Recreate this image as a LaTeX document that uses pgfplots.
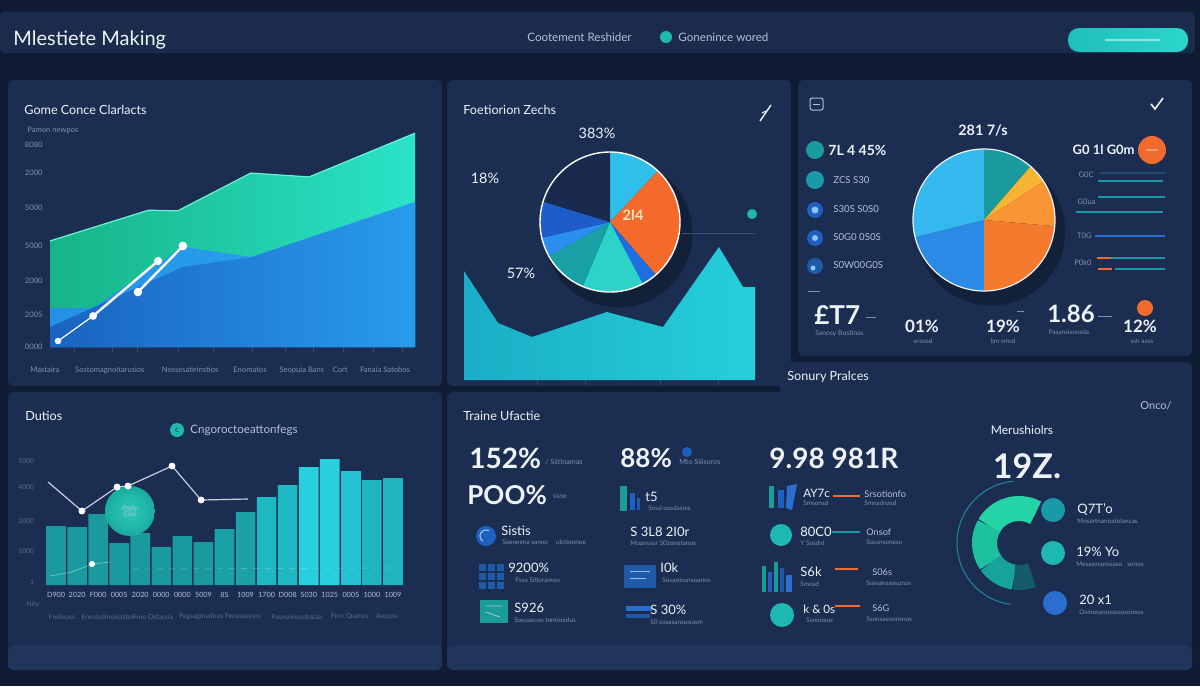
\documentclass[border=0pt]{standalone}
\usepackage{pgfplots}
\pgfplotsset{compat=1.18}
\usepackage{fontspec}
\setmainfont{Lato}
\newcommand\fs[1]{\fontsize{#1}{#1}\selectfont}
\definecolor{bgdark}{HTML}{101B34}
\definecolor{topbar}{HTML}{1A2B4C}
\definecolor{panel}{HTML}{1B2D50}
\definecolor{band}{HTML}{203559}
\definecolor{wtxt}{HTML}{EEF3FA}
\definecolor{ltxt}{HTML}{B4C0D6}
\definecolor{gtxt}{HTML}{8090B0}
\definecolor{dtxt}{HTML}{5A6A8C}
\definecolor{tickc}{HTML}{3A4D72}
\definecolor{grnL}{HTML}{17B487}
\definecolor{grnR}{HTML}{2AE3C8}
\definecolor{grnLine}{HTML}{6AF2D8}
\definecolor{lbL}{HTML}{2591E6}
\definecolor{lbR}{HTML}{2AA6F2}
\definecolor{dbL}{HTML}{1A63C0}
\definecolor{dbR}{HTML}{289CEC}
\definecolor{tealL}{HTML}{1AAEC6}
\definecolor{tealR}{HTML}{26CFDA}
\definecolor{pCyan}{HTML}{2EC0EA}
\definecolor{pOrange}{HTML}{F36A2B}
\definecolor{pBlue}{HTML}{1F6FE0}
\definecolor{pTurq}{HTML}{2CD3C8}
\definecolor{pTeal}{HTML}{18A0A6}
\definecolor{pBlue2}{HTML}{2A8FF0}
\definecolor{pDBlue}{HTML}{1E5CC8}
\definecolor{pNavy}{HTML}{1A2A4E}
\definecolor{qTeal}{HTML}{1A9A9C}
\definecolor{qYel}{HTML}{F8B534}
\definecolor{qOrL}{HTML}{F99535}
\definecolor{qOr}{HTML}{F47A2D}
\definecolor{qBlue}{HTML}{2B8AE6}
\definecolor{qSky}{HTML}{35B8EE}
\definecolor{b1}{HTML}{1A9A9E}
\definecolor{b2}{HTML}{1BA2A8}
\definecolor{b3}{HTML}{1EB8C2}
\definecolor{b4}{HTML}{28CFDF}
\definecolor{b5}{HTML}{23C3D3}
\definecolor{b6}{HTML}{1FB4C0}
\definecolor{lineg}{HTML}{C5CEDC}
\definecolor{bubI}{HTML}{2FCABB}
\definecolor{bubO}{HTML}{19AC9F}
\definecolor{d1}{HTML}{25D4A6}
\definecolor{d2}{HTML}{1DC09F}
\definecolor{d3}{HTML}{17A29C}
\definecolor{d4}{HTML}{155B69}
\definecolor{thinring}{HTML}{1B8C96}
\definecolor{orng}{HTML}{F26A2E}
\definecolor{orngL}{HTML}{F9A070}
\definecolor{tealc}{HTML}{1FB8B0}
\definecolor{icoblue}{HTML}{1E5FC0}
\definecolor{icoblue2}{HTML}{1E5AA8}
\definecolor{icoteal}{HTML}{1A9C9A}
\definecolor{lineteal}{HTML}{1A9AA8}
\definecolor{lineblue}{HTML}{2A6FD0}
\definecolor{linedim}{HTML}{244A6E}
\definecolor{btnL}{HTML}{1EBFBA}
\definecolor{btnR}{HTML}{2CD6CB}
\definecolor{btnLine}{HTML}{8DE6DE}
\definecolor{cream}{HTML}{FBE1BE}
\definecolor{ltblue}{HTML}{8CC4F2}
\begin{document}
\begin{tikzpicture}
%================ background & panels (pixel units) =================
\begin{scope}[x=0.5pt,y=-0.5pt]
\fill[bgdark] (0,0) rectangle (1200,686);
\fill[topbar,rounded corners=2pt] (0,12) rectangle (1195,53);
\fill[panel,rounded corners=3pt] (8,80) rectangle (442,386);
\fill[panel,rounded corners=3pt] (447,80) rectangle (791,386);
\fill[panel,rounded corners=3pt] (798,80) rectangle (1192,356);
\fill[panel,rounded corners=3pt] (8,392) rectangle (442,670);
\fill[panel,rounded corners=3pt] (447,392) rectangle (1192,670);
\fill[panel,rounded corners=3pt] (780,362) rectangle (1192,410);
\fill[band,rounded corners=3pt] (8,645) rectangle (442,670);
\fill[band,rounded corners=3pt] (447,645) rectangle (1192,670);
% top bar content
\node[anchor=west,inner sep=0,text=wtxt,font=\fs{10}] at (13,40) {Mlestiete Making};
\node[anchor=west,inner sep=0,text=ltxt,font=\fs{5.8}] at (527,37) {Cootement Reshider};
\fill[tealc] (666,37) circle[radius=6];
\node[anchor=west,inner sep=0,text=ltxt,font=\fs{5.8}] at (678,37) {Gonenince wored};
\shade[left color=btnL,right color=btnR,rounded corners=5.5pt] (1068,28) rectangle (1188,52);
\draw[btnLine,line width=1pt] (1105,40) -- (1160,40);
\end{scope}

%================ Panel 1: area chart =================
\begin{axis}[at={(25pt,-173.5pt)},anchor=south west,scale only axis,
  width=182.5pt,height=108.5pt,xmin=0,xmax=10,ymin=0,ymax=6200,
  axis lines=left,axis line style={draw=none},clip=false,
  xtick={0.68,1.70,2.41,3.51,4.47,5.56,6.44,7.21,8.03,8.85,9.67},xticklabels={},
  x tick style={draw=tickc,line width=0.5pt},tick align=outside,major tick length=2.5pt,
  ytick={0,914,1886,2886,3971,4971,5771},
  yticklabels={0000,2005,2000,5000,5000,2000,8080},
  y tick style={draw=none},
  yticklabel style={font=\fs{3.8},text=gtxt,inner sep=1pt}]
\addplot[draw=none,left color=grnL,right color=grnR] coordinates {(0,3030)(2.7,3910)(3.5,3890)(5.5,4970)(7.1,4860)(10,6110)} \closedcycle;
\addplot[grnLine,line width=0.6pt] coordinates {(0,3030)(2.7,3910)(3.5,3890)(5.5,4970)(7.1,4860)(10,6110)};
\addplot[draw=none,left color=lbL,right color=lbR] coordinates {(0,1114)(1.18,1114)(3.64,2857)(5.53,2571)(10,4143)} \closedcycle;
\addplot[draw=none,left color=dbL,right color=dbR] coordinates {(0,571)(3.64,2286)(5.53,2571)(10,4143)} \closedcycle;
\addplot[white,line width=0.6pt,mark=*,mark size=1.3pt] coordinates {(0.22,171)(1.18,886)};
\addplot[white,line width=1.2pt,mark=*,mark size=1.3pt] coordinates {(1.18,886)(2.96,2457)};
\addplot[white,line width=1.2pt,mark=*,mark size=1.5pt] coordinates {(2.41,1571)(3.64,2886)};
\addplot[only marks,white,mark=*,mark size=1.8pt] coordinates {(2.96,2457)(3.64,2886)};
\node[font=\fs{3.8},text=gtxt] at (axis cs:-0.14,-660) {Mastaira};
\node[font=\fs{3.8},text=gtxt] at (axis cs:1.64,-660) {Sostomagnoitarusios};
\node[font=\fs{3.8},text=gtxt] at (axis cs:3.84,-660) {Nossesatirinstios};
\node[font=\fs{3.8},text=gtxt] at (axis cs:5.48,-660) {Enomatos};
\node[font=\fs{3.8},text=gtxt] at (axis cs:6.9,-660) {Seopuia Bans};
\node[font=\fs{3.8},text=gtxt] at (axis cs:7.95,-660) {Cort};
\node[font=\fs{3.8},text=gtxt] at (axis cs:9.18,-660) {Fanaia Satobos};
\end{axis}

%================ Panel 2: teal area =================
\begin{axis}[at={(232pt,-190pt)},anchor=south west,scale only axis,
  width=145.5pt,height=90pt,xmin=0,xmax=10,ymin=0,ymax=180,
  axis lines=left,axis line style={draw=none},clip=false,
  xtick={2.51,4.16,6.74,8.76},xticklabels={},
  x tick style={draw=tickc,line width=0.5pt},tick align=outside,major tick length=2.5pt,
  ytick=\empty]
\addplot[draw=none,left color=tealL,right color=tealR] coordinates {(0,109)(1.17,57)(2.34,43)(4.91,68)(6.84,53)(8.76,133)(9.59,93)(10,93)} \closedcycle;
\end{axis}

%================ Panel 2: pie =================
\begin{axis}[at={(305pt,-111pt)},anchor=center,scale only axis,
  width=71pt,height=71pt,xmin=-1,xmax=1,ymin=-1,ymax=1,hide axis,clip=false]
\coordinate (pc) at (axis cs:0,0);
\fill[black,opacity=0.28] (axis cs:0.12,-0.16) circle[radius=37pt];
\fill[pCyan]   (pc) -- ++(90:35pt)   arc[start angle=90,end angle=47,radius=35pt] -- cycle;
\fill[pOrange] (pc) -- ++(47:35pt)   arc[start angle=47,end angle=-49,radius=35pt] -- cycle;
\fill[pBlue]   (pc) -- ++(-49:35pt)  arc[start angle=-49,end angle=-62,radius=35pt] -- cycle;
\fill[pTurq]   (pc) -- ++(-62:35pt)  arc[start angle=-62,end angle=-113,radius=35pt] -- cycle;
\fill[pTeal]   (pc) -- ++(-113:35pt) arc[start angle=-113,end angle=-151,radius=35pt] -- cycle;
\fill[pBlue2]  (pc) -- ++(-151:35pt) arc[start angle=-151,end angle=-167,radius=35pt] -- cycle;
\fill[pDBlue]  (pc) -- ++(-167:35pt) arc[start angle=-167,end angle=-197,radius=35pt] -- cycle;
\fill[pNavy]   (pc) -- ++(-197:35pt) arc[start angle=-197,end angle=-270,radius=35pt] -- cycle;
\draw[white,line width=0.7pt] (pc) circle[radius=35pt];
\end{axis}

%================ Panel 3: pie =================
\begin{axis}[at={(492pt,-110pt)},anchor=center,scale only axis,
  width=72pt,height=72pt,xmin=-1,xmax=1,ymin=-1,ymax=1,hide axis,clip=false]
\coordinate (qc) at (axis cs:0,0);
\fill[black,opacity=0.28] (axis cs:0.1,-0.16) circle[radius=37pt];
\fill[qTeal] (qc) -- ++(90:35.5pt)   arc[start angle=90,end angle=49,radius=35.5pt] -- cycle;
\fill[qYel]  (qc) -- ++(49:35.5pt)   arc[start angle=49,end angle=33,radius=35.5pt] -- cycle;
\fill[qOrL]  (qc) -- ++(33:35.5pt)   arc[start angle=33,end angle=-5,radius=35.5pt] -- cycle;
\fill[qOr]   (qc) -- ++(-5:35.5pt)   arc[start angle=-5,end angle=-90,radius=35.5pt] -- cycle;
\fill[qBlue] (qc) -- ++(-90:35.5pt)  arc[start angle=-90,end angle=-166,radius=35.5pt] -- cycle;
\fill[qSky]  (qc) -- ++(-166:35.5pt) arc[start angle=-166,end angle=-270,radius=35.5pt] -- cycle;
\draw[wtxt,line width=0.6pt] (qc) circle[radius=35.5pt];
\end{axis}

%================ Panel 4: bars =================
\begin{axis}[at={(22.75pt,-292.5pt)},anchor=south west,scale only axis,
  width=179pt,height=65pt,xmin=-0.5,xmax=16.5,ymin=0,ymax=130,
  axis lines=left,axis line style={draw=none},tick style={draw=none},clip=false,
  xtick={0,...,16},
  xticklabels={D900,2020,F000,0005,2020,0000,0000,5009,8S,1009,1700,D008,5030,1025,0005,1000,1009},
  xticklabel style={font=\fs{3.6},text=ltxt,inner sep=1.5pt},
  ytick={3,34,64,98,124},yticklabels={1,1000,2000,4000,5000},
  yticklabel style={font=\fs{3.4},text=dtxt}]
\addplot[ybar,bar width=9.8pt,bar shift=0pt,fill=b1,draw=none] coordinates {(0,59)(1,58)(2,71)(3,42)(4,52)(5,38)(6,49)(7,43)};
\addplot[ybar,bar width=9.8pt,bar shift=0pt,fill=b2,draw=none] coordinates {(8,56)(9,73)};
\addplot[ybar,bar width=9.8pt,bar shift=0pt,fill=b3,draw=none] coordinates {(10,88)(11,100)};
\addplot[ybar,bar width=9.8pt,bar shift=0pt,fill=b4,draw=none] coordinates {(12,118)(13,126)};
\addplot[ybar,bar width=9.8pt,bar shift=0pt,fill=b5,draw=none] coordinates {(14,114)};
\addplot[ybar,bar width=9.8pt,bar shift=0pt,fill=b6,draw=none] coordinates {(15,105)(16,107)};
\shade[inner color=bubI,outer color=bubO] (axis cs:3.51,74) circle[radius=12.5pt];
\node[font=\fs{3.2},text=ltxt,align=center] at (axis cs:3.51,74) {Prety\\Cust};
\addplot[white,opacity=0.35,line width=0.4pt] coordinates {(-0.28,9)(0.76,13)(1.71,21)(2.56,23)};
\addplot[white,opacity=0.2,line width=0.4pt,dash pattern=on 3pt off 3pt] coordinates {(3.66,16)(16.33,17)};
\addplot[only marks,white,mark=*,mark size=1.3pt] coordinates {(1.71,21)};
\addplot[lineg,line width=0.6pt] coordinates {(-0.38,103)(1.23,74)(2.9,98)(3.42,99)(5.51,119)(6.89,85)(9.12,86)};
\addplot[only marks,white,mark=*,mark size=1.5pt] coordinates {(1.23,74)(2.9,98)(3.42,99)(5.51,119)(6.89,85)};
\end{axis}

%================ Panel 5: donut =================
\begin{axis}[at={(509.5pt,-271.5pt)},anchor=center,scale only axis,
  width=80pt,height=80pt,xmin=-1,xmax=1,ymin=-1,ymax=1,hide axis,clip=false]
\coordinate (dc) at (axis cs:0,0);
\draw[thinring,line width=0.5pt] (dc) ++(95:31pt) arc[start angle=95,end angle=262,radius=31pt];
\draw[d1,line width=12.5pt] (dc) ++(61:17.25pt)  arc[start angle=61,end angle=150,radius=17.25pt];
\draw[d2,line width=12.5pt] (dc) ++(150:17.25pt) arc[start angle=150,end angle=215,radius=17.25pt];
\draw[d3,line width=12.5pt] (dc) ++(215:17.25pt) arc[start angle=215,end angle=262,radius=17.25pt];
\draw[d4,line width=12.5pt] (dc) ++(262:17.25pt) arc[start angle=262,end angle=292,radius=17.25pt];
\end{axis}

%================ overlays (pixel units) =================
\begin{scope}[x=0.5pt,y=-0.5pt]
% panel 1
\node[anchor=west,inner sep=0,text=wtxt,font=\fs{6.3}] at (24,110) {Gome Conce Clarlacts};
\node[anchor=west,inner sep=0,text=gtxt,font=\fs{3.8}] at (27,130) {Pamon newpos};
% panel 2
\node[anchor=west,inner sep=0,text=wtxt,font=\fs{6.3}] at (463,110) {Foetiorion Zechs};
\draw[wtxt,line width=0.7pt] (760,121) -- (771,105);
\draw[wtxt,line width=0.5pt] (762,113) -- (766,111);
\node[inner sep=0,text=wtxt,font=\fs{7.2}] at (597,133) {383\%};
\node[inner sep=0,text=wtxt,font=\fs{7.2}] at (485,178) {18\%};
\node[inner sep=0,text=wtxt,font=\fs{7.2}] at (521,273) {57\%};
\node[inner sep=0,text=cream,font=\bfseries\fs{7.2}] at (633,215) {2I4};
\draw[tickc,line width=0.4pt] (682,233) -- (755,233);
\fill[tealc] (752,214) circle[radius=5];
% panel 3
\draw[ltxt,line width=0.5pt,rounded corners=1pt] (810,98) rectangle (823,110);
\draw[ltxt,line width=0.4pt] (813,104) -- (820,104);
\draw[wtxt,line width=0.8pt] (1151,104) -- (1155,109) -- (1163,98);
\node[inner sep=0,text=wtxt,font=\bfseries\fs{7.2}] at (983,130) {281 7/s};
\fill[qTeal] (815,150) circle[radius=9];
\fill[lineteal] (815,180) circle[radius=9];
\fill[icoblue] (815,210) circle[radius=8]; \fill[ltblue] (815,210) circle[radius=3.5];
\fill[icoblue] (815,238) circle[radius=8]; \fill[ltblue] (815,238) circle[radius=3];
\fill[icoblue2] (815,266) circle[radius=8]; \fill[ltblue] (813,268) circle[radius=2.5];
\node[anchor=west,inner sep=0,text=wtxt,font=\bfseries\fs{7}] at (828,150) {7L 4 45\%};
\node[anchor=west,inner sep=0,text=ltxt,font=\fs{4.8}] at (833,180) {ZCS S30};
\node[anchor=west,inner sep=0,text=ltxt,font=\fs{4.8}] at (833,209) {S30S S0S0};
\node[anchor=west,inner sep=0,text=ltxt,font=\fs{4.8}] at (833,237) {S0G0 0S0S};
\node[anchor=west,inner sep=0,text=ltxt,font=\fs{4.8}] at (833,265) {S0W00G0S};
\draw[gtxt,line width=0.4pt] (808,291) -- (820,291);
\node[anchor=east,inner sep=0,text=wtxt,font=\bfseries\fs{6.5}] at (1135,150) {G0 1l G0m};
\fill[orng] (1152,150) circle[radius=14];
\draw[orngL,line width=0.8pt] (1146,150) -- (1158,150);
\node[anchor=east,inner sep=0,text=gtxt,font=\fs{3.8}] at (1094,175) {G0C};
\draw[linedim,line width=0.6pt] (1100,173) -- (1165,173);
\draw[lineteal,line width=0.7pt] (1098,181) -- (1163,181);
\node[anchor=east,inner sep=0,text=gtxt,font=\fs{3.8}] at (1096,202) {G0ua};
\draw[lineteal,line width=0.7pt] (1098,197) -- (1165,197);
\draw[lineteal,line width=0.7pt] (1076,212) -- (1163,212);
\node[anchor=east,inner sep=0,text=gtxt,font=\fs{3.8}] at (1092,236) {T0G};
\draw[lineblue,line width=1.3pt] (1095,236) -- (1165,236);
\node[anchor=east,inner sep=0,text=gtxt,font=\fs{3.8}] at (1092,263) {P0k0};
\draw[orng,line width=1.1pt] (1097,258) -- (1111,258);
\draw[lineteal,line width=0.7pt] (1111,258) -- (1165,258);
\draw[orng,line width=1.1pt] (1098,269) -- (1112,269);
\draw[lineteal,line width=0.7pt] (1115,269) -- (1165,269);
\node[anchor=west,inner sep=0,text=wtxt,font=\bfseries\fs{13}] at (814,315) {£T7};
\draw[gtxt,line width=0.5pt] (866,317) -- (876,317);
\node[anchor=west,inner sep=0,text=gtxt,font=\fs{3.4}] at (815,334) {Sanosy Bostinas};
\node[inner sep=0,text=wtxt,font=\bfseries\fs{8.5}] at (922,326) {01\%};
\node[inner sep=0,text=gtxt,font=\fs{3.2}] at (923,341) {snossd};
\node[inner sep=0,text=wtxt,font=\bfseries\fs{8.5}] at (1003,326) {19\%};
\node[inner sep=0,text=gtxt,font=\fs{3.2}] at (1003,341) {bm smsd};
\draw[gtxt,line width=0.4pt] (1017,311) -- (1024,311);
\node[inner sep=0,text=wtxt,font=\bfseries\fs{12}] at (1071,314) {1.86};
\draw[gtxt,line width=0.5pt] (1098,316) -- (1112,316);
\node[inner sep=0,text=gtxt,font=\fs{3.2}] at (1069,332) {Pasansisonsda};
\fill[orng] (1145,308) circle[radius=8];
\node[inner sep=0,text=wtxt,font=\bfseries\fs{8.5}] at (1140,326) {12\%};
\node[inner sep=0,text=gtxt,font=\fs{3.2}] at (1142,341) {ssh aass};
% panel 4
\node[anchor=west,inner sep=0,text=wtxt,font=\fs{6.3}] at (25,416) {Dutios};
\fill[tealc] (177,430) circle[radius=7];
\node[inner sep=0,text=panel,font=\fs{4}] at (177,430) {c};
\node[anchor=west,inner sep=0,text=ltxt,font=\fs{5.8}] at (190,430) {Cngoroctoeattonfegs};
\node[anchor=west,inner sep=0,text=dtxt,font=\fs{3.4}] at (26,605) {Nity};
\node[inner sep=0,text=dtxt,font=\fs{3.4}] at (62,617) {Fnoleuss};
\node[inner sep=0,text=dtxt,font=\fs{3.4}] at (108,617) {Enmasdmoisastos};
\node[inner sep=0,text=dtxt,font=\fs{3.4}] at (153,617) {Fmo Osfassia};
\node[inner sep=0,text=dtxt,font=\fs{3.4}] at (220,617) {Pagsagmadnos Fenasasinos};
\node[inner sep=0,text=dtxt,font=\fs{3.4}] at (297,617) {Fasesrinoadrataa};
\node[inner sep=0,text=dtxt,font=\fs{3.4}] at (350,617) {Fnm Quanos};
\node[inner sep=0,text=dtxt,font=\fs{3.4}] at (387,617) {Aupuss};
% panel 5
\node[anchor=west,inner sep=0,text=wtxt,font=\fs{6.3}] at (787,377) {Sonury Pralces};
\node[anchor=west,inner sep=0,text=wtxt,font=\fs{6.3}] at (463,416) {Traine Ufactie};
\node[anchor=east,inner sep=0,text=ltxt,font=\fs{5.5}] at (1172,406) {Onco/};
\node[inner sep=0,text=wtxt,font=\fs{6}] at (1022,430) {Merushiolrs};
\node[inner sep=0,text=wtxt,font=\bfseries\fs{17}] at (1027,466) {19Z.};
\node[anchor=west,inner sep=0,text=wtxt,font=\bfseries\fs{14}] at (469,458) {152\%};
\node[anchor=west,inner sep=0,text=gtxt,font=\fs{3.6}] at (545,462) {/ Siitinamas};
\node[anchor=west,inner sep=0,text=wtxt,font=\bfseries\fs{13}] at (467,495) {POO\%};
\node[anchor=west,inner sep=0,text=gtxt,font=\fs{3.4}] at (553,497) {ssne};
\node[anchor=west,inner sep=0,text=wtxt,font=\bfseries\fs{13}] at (620,458) {88\%};
\fill[icoblue] (687,452) circle[radius=5];
\node[anchor=west,inner sep=0,text=gtxt,font=\fs{3.6}] at (679,462) {Mto Siiisoros};
\node[anchor=west,inner sep=0,text=wtxt,font=\bfseries\fs{14}] at (769,458) {9.98 981R};
% left column
\fill[icoblue] (486,536) circle[radius=10];
\draw[ltblue,line width=0.6pt] (486,536) ++(120:6) arc[start angle=120,end angle=300,radius=6];
\node[anchor=west,inner sep=0,text=wtxt,font=\fs{6.5}] at (501,531) {Sistis};
\node[anchor=west,inner sep=0,text=gtxt,font=\fs{3.2}] at (502,542) {Seeneena sanno \quad ulctionnoe};
\foreach \i in {0,1,2} \foreach \j in {0,1,2} \fill[icoblue2] (479+\i*9,564+\j*9) rectangle ++(7,7);
\node[anchor=west,inner sep=0,text=wtxt,font=\fs{6.5}] at (508,568) {9200\%};
\node[anchor=west,inner sep=0,text=gtxt,font=\fs{3.2}] at (515,580) {Fsso Sitloramoo};
\fill[icoteal] (480,600) rectangle (508,623);
\draw[ltxt,line width=0.4pt] (486,606) -- (502,606) (486,612) -- (500,617);
\node[anchor=west,inner sep=0,text=wtxt,font=\fs{6.5}] at (514,608) {S926};
\node[anchor=west,inner sep=0,text=gtxt,font=\fs{3.2}] at (514,620) {Sossaacoo tomisoidus};
% middle column
\fill[icoteal] (620,486) rectangle (627,511);
\fill[icoblue] (630,493) rectangle (635,510);
\fill[icoblue2] (637,498) rectangle (640,510);
\node[anchor=west,inner sep=0,text=wtxt,font=\fs{6.5}] at (645,497) {t5};
\node[anchor=west,inner sep=0,text=gtxt,font=\fs{3.2}] at (648,508) {Sosd oasdasms};
\node[anchor=west,inner sep=0,text=wtxt,font=\fs{6.5}] at (630,532) {S 3L8 2I0r};
\node[anchor=west,inner sep=0,text=gtxt,font=\fs{3.2}] at (630,543) {Moanssor S0zonotanos};
\fill[icoblue2] (624,565) rectangle (656,588);
\draw[ltblue,line width=0.4pt] (630,571) -- (650,571) (630,578) -- (646,578);
\node[anchor=west,inner sep=0,text=wtxt,font=\fs{6.5}] at (660,568) {I0k};
\node[anchor=west,inner sep=0,text=gtxt,font=\fs{3.2}] at (662,580) {Sosasmunaoanos};
\fill[lineblue] (626,606) rectangle (652,611);
\fill[icoblue2] (626,614) rectangle (650,618);
\node[anchor=west,inner sep=0,text=wtxt,font=\fs{6.5}] at (650,610) {S 30\%};
\node[anchor=west,inner sep=0,text=gtxt,font=\fs{3.2}] at (650,622) {S0 sosasansusiasm};
% right column
\fill[icoteal] (769,486) rectangle (774,508);
\fill[icoblue] (778,490) rectangle (784,508);
\fill[lineblue] (787,486) -- (797,484) -- (792,510) -- (786,508) -- cycle;
\node[anchor=west,inner sep=0,text=wtxt,font=\fs{5.8}] at (803,493) {AY7c};
\node[anchor=west,inner sep=0,text=gtxt,font=\fs{3.2}] at (803,503) {Smsonsd};
\draw[orng,line width=1.1pt] (833,496) -- (860,496);
\node[anchor=west,inner sep=0,text=ltxt,font=\fs{4.6}] at (864,494) {Srsotionfo};
\node[anchor=west,inner sep=0,text=gtxt,font=\fs{3.2}] at (864,503) {Smnadnasd};
\fill[tealc] (781,535) circle[radius=11];
\node[anchor=west,inner sep=0,text=wtxt,font=\fs{6.5}] at (800,532) {80C0};
\node[anchor=west,inner sep=0,text=gtxt,font=\fs{3.2}] at (800,543) {Y Sosdnl};
\draw[lineteal,line width=1.1pt] (832,532) -- (860,532);
\node[anchor=west,inner sep=0,text=ltxt,font=\fs{4.6}] at (866,532) {Onsof};
\node[anchor=west,inner sep=0,text=gtxt,font=\fs{3.2}] at (866,542) {Sossnsonaso};
\fill[icoteal] (762,566) rectangle (766,592);
\fill[icoblue] (768,572) rectangle (772,592);
\fill[icoteal] (774,562) rectangle (778,592);
\fill[icoblue2] (780,568) rectangle (784,592);
\fill[lineblue] (786,575) rectangle (792,592);
\node[anchor=west,inner sep=0,text=wtxt,font=\fs{6.5}] at (800,572) {S6k};
\node[anchor=west,inner sep=0,text=gtxt,font=\fs{3.2}] at (800,584) {Smosd};
\draw[orng,line width=1.1pt] (835,569) -- (858,569);
\node[anchor=west,inner sep=0,text=ltxt,font=\fs{4.6}] at (872,572) {S06s};
\node[anchor=west,inner sep=0,text=gtxt,font=\fs{3.2}] at (866,583) {Sossansaasunos};
\fill[tealc] (782,615) circle[radius=12];
\node[anchor=west,inner sep=0,text=wtxt,font=\fs{5.8}] at (803,609) {k \& 0s};
\node[anchor=west,inner sep=0,text=gtxt,font=\fs{3.2}] at (806,620) {Ssnonaos};
\draw[orng,line width=1.1pt] (835,606) -- (860,606);
\node[anchor=west,inner sep=0,text=ltxt,font=\fs{4.6}] at (872,608) {S6G};
\node[anchor=west,inner sep=0,text=gtxt,font=\fs{3.2}] at (866,619) {Ssonsasnonsnos};
% donut side items
\fill[lineteal] (1053,510) circle[radius=12];
\fill[tealc] (1053,553) circle[radius=12];
\fill[lineblue] (1055,603) circle[radius=12];
\node[anchor=west,inner sep=0,text=wtxt,font=\fs{6.5}] at (1077,509) {Q7T'o};
\node[anchor=west,inner sep=0,text=gtxt,font=\fs{3.2}] at (1077,521) {Mosartnanoatolancas};
\node[anchor=west,inner sep=0,text=wtxt,font=\fs{6.5}] at (1076,552) {19\% Yo};
\node[anchor=west,inner sep=0,text=gtxt,font=\fs{3.2}] at (1076,564) {Mesasmanosaso \; sonso};
\node[anchor=west,inner sep=0,text=wtxt,font=\fs{6.5}] at (1079,600) {20 x1};
\node[anchor=west,inner sep=0,text=gtxt,font=\fs{3.2}] at (1079,612) {Osmosanosassosonsos};
\end{scope}
\pgfresetboundingbox
\path (0,0) rectangle (600pt,-343pt);
\end{tikzpicture}
\end{document}
